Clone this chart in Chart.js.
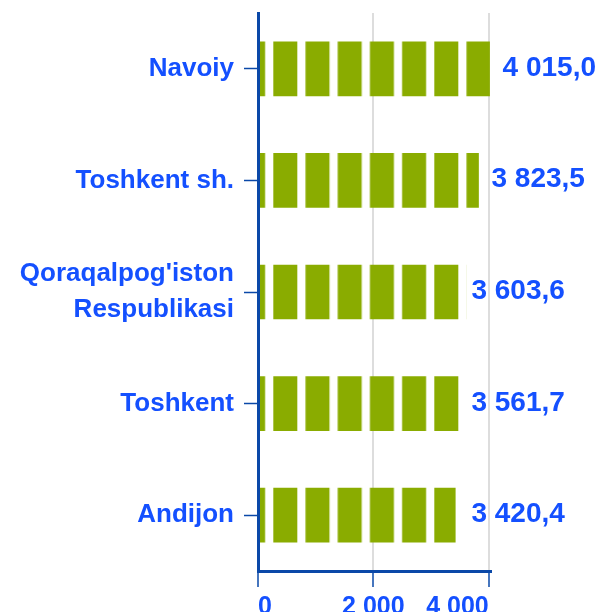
<!DOCTYPE html>
<html><head><meta charset="utf-8">
<script src="https://cdn.jsdelivr.net/npm/chart.js@4"></script>
<style>html,body{margin:0;padding:0;background:#fff}#wrap{width:597px;height:612px}canvas{display:block}</style>
</head><body><div id="wrap"><canvas id="c" width="597" height="612"></canvas></div>
<script>
// ---- data ----
const regions = ["Navoiy", "Toshkent sh.", ["Qoraqalpog'iston", "Respublikasi"], "Toshkent", "Andijon"];
const values = [4015.0, 3823.5, 3603.6, 3561.7, 3420.4];
const xTickValues = [0, 2000, 4000];
const xMax = 4040;

// ---- styles ----
const FONT = '"Liberation Sans", Arial, sans-serif';
const TEXT_BLUE = '#1450ff';
const AXIS_BLUE = '#0a48a8';
const BAR_GREEN = '#8aac00';

function fmt(v) {
  const s = v.toFixed(1).split('.');
  return s[0].replace(/\B(?=(\d{3})+(?!\d))/g, ' ') + ',' + s[1];
}

let cachedPattern = null;
function getPattern(chart) {
  if (!cachedPattern) {
    const period = 32.2, block = 24, n = 5, w = 161;
    const c = document.createElement('canvas');
    c.width = w; c.height = 10;
    const g = c.getContext('2d');
    g.fillStyle = '#ffffff'; g.fillRect(0, 0, w, 10);
    g.fillStyle = BAR_GREEN;
    for (let k = -1; k <= n; k++) g.fillRect(k * period, 0, block, 10);
    cachedPattern = chart.ctx.createPattern(c, 'repeat');
  }
  const tx = chart.chartArea.left + 15.3;
  cachedPattern.setTransform(new DOMMatrix().translate(tx, 0));
  return cachedPattern;
}

const LABEL_MIN_VALUE = 3700;
const valueLabels = {
  id: 'valueLabels',
  afterDatasetsDraw(chart) {
    const ctx = chart.ctx;
    const xs = chart.scales.x;
    const meta = chart.getDatasetMeta(0);
    ctx.save();
    ctx.font = 'bold 28px ' + FONT;
    ctx.fillStyle = TEXT_BLUE;
    ctx.textAlign = 'left';
    ctx.textBaseline = 'alphabetic';
    meta.data.forEach((bar, i) => {
      const x = values[i] > LABEL_MIN_VALUE ? bar.x + 13 : xs.getPixelForValue(LABEL_MIN_VALUE);
      ctx.fillText(fmt(values[i]), x, bar.y + 7);
    });
    ctx.restore();
  }
};

new Chart(document.getElementById('c'), {
  type: 'bar',
  data: {
    labels: regions,
    datasets: [{
      data: values,
      backgroundColor: (c) => c.chart.chartArea ? getPattern(c.chart) : BAR_GREEN,
      borderWidth: 0,
      barThickness: 54
    }]
  },
  options: {
    indexAxis: 'y',
    responsive: false,
    animation: false,
    devicePixelRatio: 1,
    layout: { padding: { top: 13, right: 106, left: 0, bottom: 0 } },
    plugins: { legend: { display: false }, tooltip: { enabled: false } },
    scales: {
      x: {
        min: 0, max: xMax,
        afterBuildTicks: (s) => { s.ticks = xTickValues.map(v => ({ value: v })); },
        afterFit: (s) => { s.height = 41; s.paddingLeft = 0; s.paddingRight = 0; },
        grid: { color: '#dddddd', lineWidth: 2, tickColor: AXIS_BLUE, tickWidth: 1.5, tickLength: 16, drawTicks: true },
        border: { display: true, color: AXIS_BLUE, width: 3, z: 1 },
        ticks: {
          align: 'inner', color: TEXT_BLUE, padding: 5, maxRotation: 0,
          font: { family: FONT, size: 25, weight: 'bold' },
          callback: (v) => fmt(v).replace(/,0$/, '')
        }
      },
      y: {
        afterFit: (s) => { s.width = 258; s.paddingTop = 0; s.paddingBottom = 0; },
        grid: { drawOnChartArea: false, offset: false, tickColor: AXIS_BLUE, tickWidth: 1.5, tickLength: 14 },
        border: { display: true, color: AXIS_BLUE, width: 3, z: 1 },
        ticks: {
          color: TEXT_BLUE, padding: 10,
          font: { family: FONT, size: 26, weight: 'bold', lineHeight: 1.38 }
        }
      }
    }
  },
  plugins: [valueLabels]
});
</script>
</body></html>
